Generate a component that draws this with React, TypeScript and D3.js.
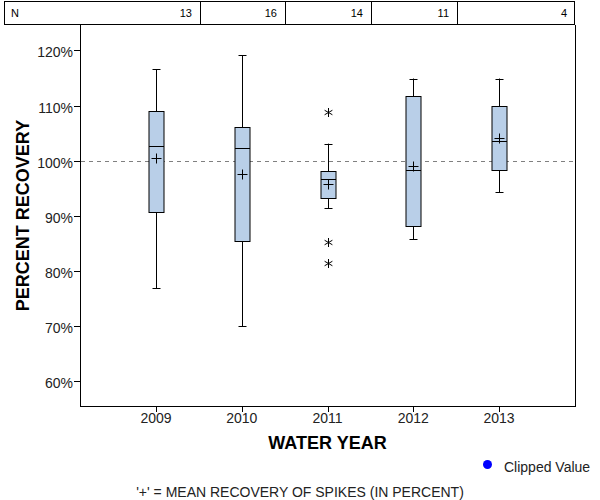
import React from "react";
import * as d3 from "d3";

const years = ["2009", "2010", "2011", "2012", "2013"];
const counts = [13, 16, 14, 11, 4];
const whiskerLow = [76.9, 70.0, 91.4, 85.8, 94.3];
const q1 = [90.7, 85.4, 93.2, 88.1, 98.3];
const median = [102.6, 102.4, 96.65, 98.3, 103.6];
const q3 = [109.0, 106.1, 98.1, 111.7, 109.9];
const whiskerHigh = [116.6, 119.1, 103.1, 114.9, 114.9];
const means = [100.5, 97.55, 95.7, 99.1, 104.1];
const outlierYears = ["2011", "2011", "2011"];
const outlierValues = [108.8, 85.2, 81.4];
const yTicks = [60, 70, 80, 90, 100, 110, 120];

const W = 600;
const H = 500;
const left = 80;
const right = 575;
const top = 25;
const bottom = 406;
const font = "'Liberation Sans', Arial, sans-serif";

export default function App() {
  const x = d3.scalePoint<string>().domain(years).range([left, right]).padding(0.887);
  const y = d3.scaleLinear().domain([55.56, 124.6]).range([bottom, top]);
  const bw = 15;
  const cap = 4;
  const dividers = [200, 285, 371, 457];
  const cellRight = [...dividers, 575];
  const px = (v: number) => Math.round(v) + 0.5;
  const star = (cx: number, cy: number) => {
    const r = 4.5;
    const dx = r * Math.cos(Math.PI / 6);
    const dy = r * Math.sin(Math.PI / 6);
    return `M${cx},${cy - r}L${cx},${cy + r}M${cx - dx},${cy - dy}L${cx + dx},${cy + dy}M${cx - dx},${cy + dy}L${cx + dx},${cy - dy}`;
  };

  return (
    <svg width={W} height={H} style={{ position: "absolute", left: 0, top: 0, background: "#fff" }} fontFamily={font}>
      <rect x={0} y={0} width={W} height={H} fill="#fff" />
      {/* N table */}
      <rect x={4.5} y={1.5} width={570} height={23} fill="none" stroke="#000" strokeWidth={1} />
      {dividers.map((d, i) => (
        <line key={i} x1={d + 0.5} x2={d + 0.5} y1={1} y2={25} stroke="#000" />
      ))}
      <text x={11} y={17} fontSize={11} fill="#000">N</text>
      {counts.map((c, i) => (
        <text key={i} x={cellRight[i] - 8} y={17} fontSize={11} textAnchor="end" fill="#000">{c}</text>
      ))}
      {/* plot frame */}
      <line x1={left + 0.5} x2={left + 0.5} y1={top} y2={bottom + 1} stroke="#000" />
      <line x1={left} x2={right + 1} y1={bottom + 0.5} y2={bottom + 0.5} stroke="#000" />
      <line x1={right + 0.5} x2={right + 0.5} y1={top} y2={bottom + 1} stroke="#000" />
      {/* y axis */}
      {yTicks.map((t) => (
        <g key={t}>
          <line x1={left - 6} x2={left} y1={px(y(t))} y2={px(y(t))} stroke="#000" />
          <text x={left - 7} y={y(t) + 7} fontSize={14} textAnchor="end" fill="#222">{t}%</text>
        </g>
      ))}
      {/* x axis */}
      {years.map((yr) => (
        <g key={yr}>
          <line x1={px(x(yr)!)} x2={px(x(yr)!)} y1={bottom} y2={bottom + 6} stroke="#000" />
          <text x={x(yr)!} y={bottom + 17} fontSize={14} textAnchor="middle" fill="#222">{yr}</text>
        </g>
      ))}
      {/* reference line */}
      <line x1={left + 1} x2={right} y1={px(y(100))} y2={px(y(100))} stroke="#808080" strokeDasharray="4,4" />
      {/* boxes */}
      {years.map((yr, i) => {
        const cx = px(x(yr)!);
        return (
          <g key={yr} stroke="#000" strokeWidth={1}>
            <line x1={cx} x2={cx} y1={y(whiskerHigh[i])} y2={y(q3[i])} />
            <line x1={cx} x2={cx} y1={y(q1[i])} y2={y(whiskerLow[i])} />
            <line x1={cx - cap} x2={cx + cap} y1={px(y(whiskerHigh[i]))} y2={px(y(whiskerHigh[i]))} />
            <line x1={cx - cap} x2={cx + cap} y1={px(y(whiskerLow[i]))} y2={px(y(whiskerLow[i]))} />
            <rect x={cx - bw / 2} y={px(y(q3[i]))} width={bw} height={px(y(q1[i])) - px(y(q3[i]))} fill="#b9cfe8" />
            <line x1={cx - bw / 2} x2={cx + bw / 2} y1={px(y(median[i]))} y2={px(y(median[i]))} />
            <line x1={cx - 5} x2={cx + 5} y1={px(y(means[i]))} y2={px(y(means[i]))} />
            <line x1={cx} x2={cx} y1={px(y(means[i])) - 5} y2={px(y(means[i])) + 5} />
          </g>
        );
      })}
      {/* outliers */}
      {outlierValues.map((v, i) => (
        <path key={i} d={star(px(x(outlierYears[i])!), px(y(v)))} stroke="#000" strokeWidth={1} fill="none" />
      ))}
      {/* axis titles */}
      <text x={(left + right) / 2} y={449} fontSize={18} fontWeight="bold" textAnchor="middle" fill="#000">WATER YEAR</text>
      <text transform={`translate(29,${(top + bottom) / 2}) rotate(-90)`} fontSize={18} fontWeight="bold" textAnchor="middle" fill="#000">PERCENT RECOVERY</text>
      {/* legend */}
      <circle cx={487.5} cy={464.5} r={4.5} fill="#0000ff" />
      <text x={504} y={472} fontSize={14} fill="#222">Clipped Value</text>
      <text x={300} y={497} fontSize={14} textAnchor="middle" fill="#222">'+' = MEAN RECOVERY OF SPIKES (IN PERCENT)</text>
    </svg>
  );
}
